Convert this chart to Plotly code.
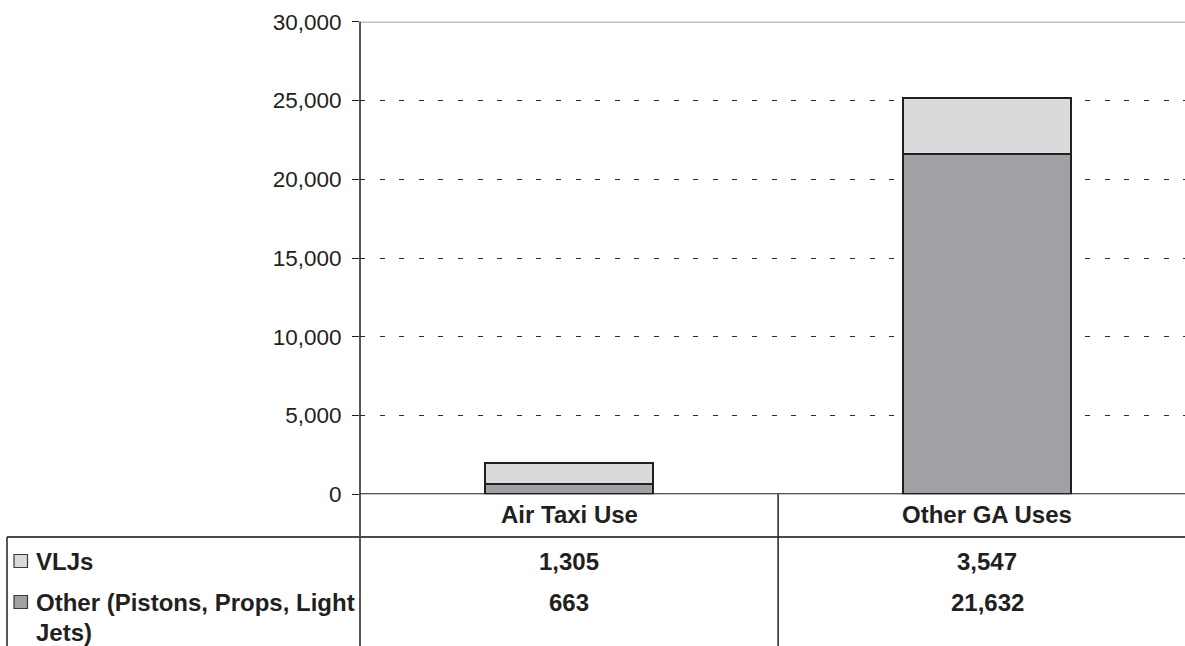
import plotly.graph_objects as go

# ---- data -------------------------------------------------------------
categories = ["Air Taxi Use", "Other GA Uses"]
series_names = ["VLJs", "Other (Pistons, Props, Light Jets)"]
vljs = [1305, 3547]
other = [663, 21632]
y_ticks = [0, 5000, 10000, 15000, 20000, 25000, 30000]

# ---- styling ----------------------------------------------------------
W, H = 1185, 646
TEXT = "#231f20"
LIGHT = "#d9dadc"
DARK = "#a0a1a4"
FONT = "Liberation Sans, Arial, sans-serif"


def py(px):
    """pixel row (from top) -> paper y"""
    return (H - px) / H


X_LEFT = 360 / W           # left edge of plot area
Y_BOTTOM = py(494.3)        # value 0
Y_TOP = py(21.7)            # value 30,000

fig = go.Figure()

# stacked bars: darker "Other" at the bottom, light VLJs on top
fig.add_trace(go.Bar(
    x=categories, y=other, name=series_names[1], width=0.402,
    marker=dict(color=DARK, line=dict(color=TEXT, width=2)),
    hoverinfo="x+y+name",
))
fig.add_trace(go.Bar(
    x=categories, y=vljs, name=series_names[0], width=0.402,
    marker=dict(color=LIGHT, line=dict(color=TEXT, width=2)),
    hoverinfo="x+y+name",
))

fig.update_layout(
    template="none",
    width=W, height=H,
    margin=dict(l=0, r=0, t=0, b=0, pad=0, autoexpand=False),
    paper_bgcolor="white", plot_bgcolor="white",
    barmode="stack", showlegend=False,
    font=dict(family=FONT, color=TEXT, size=22),
    xaxis=dict(
        domain=[X_LEFT, 1], range=[-0.5, 1.4731], automargin=False,
        showticklabels=False, showgrid=False, zeroline=False,
        showline=False, ticks="", fixedrange=True,
    ),
    yaxis=dict(
        domain=[Y_BOTTOM, Y_TOP], range=[0, 30000], automargin=False,
        tickvals=y_ticks, ticktext=[f"{v:,}" for v in y_ticks],
        ticks="outside", ticklen=7, tickwidth=1, tickcolor=TEXT,
        ticklabelstandoff=6,
        tickfont=dict(family=FONT, size=22.5, color=TEXT),
        showgrid=True, gridcolor="#2a2a2a", gridwidth=1.2,
        griddash="5px,14.6px",
        zeroline=False, showline=False, fixedrange=True,
    ),
)

shapes = []
# plot-area top border (gray) and zero baseline (black)
shapes.append(dict(type="line", xref="x domain", yref="y", x0=0, x1=1,
                   y0=30000, y1=30000, line=dict(color="#8a8a8a", width=1.5)))
shapes.append(dict(type="line", xref="paper", yref="y", x0=X_LEFT, x1=1,
                   y0=0, y1=0, line=dict(color=TEXT, width=2)))
# vertical value axis, running down through the data table
shapes.append(dict(type="line", xref="paper", yref="paper", x0=X_LEFT, x1=X_LEFT,
                   y0=0, y1=Y_TOP, line=dict(color=TEXT, width=1.5)))
# data table grid
ROW_LINE = py(537)
shapes.append(dict(type="line", xref="paper", yref="paper", x0=7 / W, x1=1,
                   y0=ROW_LINE, y1=ROW_LINE, line=dict(color="#4a4a4a", width=2)))
shapes.append(dict(type="line", xref="paper", yref="paper", x0=7 / W, x1=7 / W,
                   y0=0, y1=ROW_LINE, line=dict(color=TEXT, width=1.5)))
shapes.append(dict(type="line", xref="x", yref="paper", x0=0.5, x1=0.5,
                   y0=0, y1=Y_BOTTOM, line=dict(color=TEXT, width=1.5)))

# legend keys inside the table
row_centers = [561, 602]
key_colors = [LIGHT, DARK]
for rc, col in zip(row_centers, key_colors):
    shapes.append(dict(type="rect", xref="paper", yref="paper",
                       x0=14 / W, x1=27.5 / W, y0=py(rc + 6.5), y1=py(rc - 6.5),
                       fillcolor=col, line=dict(color="#3a3a3a", width=1.2)))
fig.update_layout(shapes=shapes)

ann = []
BOLD = dict(family=FONT, size=24, color=TEXT, weight="bold")
# category header row
for c in categories:
    ann.append(dict(x=c, xref="x", y=py(514.5), yref="paper", text=c,
                    showarrow=False, font=BOLD, xanchor="center", yanchor="middle"))
# value rows
for vals, rc in zip([vljs, other], row_centers):
    for c, v in zip(categories, vals):
        ann.append(dict(x=c, xref="x", y=py(rc), yref="paper", text=f"{v:,}",
                        showarrow=False, font=BOLD, xanchor="center", yanchor="middle"))
# row labels (second label wraps onto two lines)
label_lines = [[series_names[0]], ["Other (Pistons, Props, Light", "Jets)"]]
label_rows = [[561], [602, 632]]
for lines, rows in zip(label_lines, label_rows):
    for t, rc in zip(lines, rows):
        ann.append(dict(x=34 / W, xref="paper", y=py(rc), yref="paper", text=t,
                        showarrow=False, font=BOLD, xanchor="left", yanchor="middle"))
fig.update_layout(annotations=ann)

fig.write_html("out.html")
